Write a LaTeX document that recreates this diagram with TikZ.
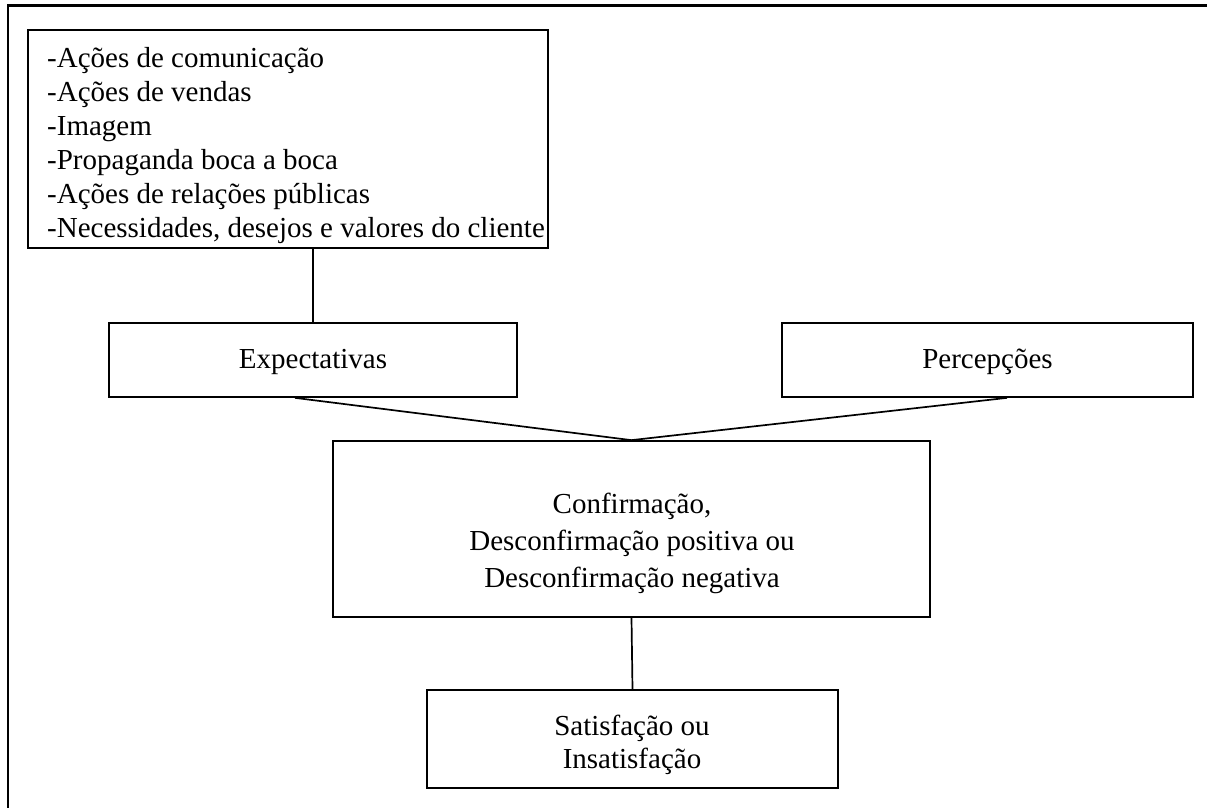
\documentclass[tikz,border=0pt]{standalone}
\usepackage{fontspec}
\setmainfont{Liberation Serif}
\begin{document}
\begin{tikzpicture}[x=1pt,y=-1pt,
  box/.style={draw, line width=1.7pt, rectangle, inner sep=0pt},
  txt/.style={inner sep=0pt},
  link/.style={line width=1.7pt},
  frameline/.style={line width=2.6pt}]
\useasboundingbox (0,0) rectangle (1207,808);
\draw[frameline] (8,808) -- (8,5.5) -- (1207,5.5);
% boxes
\node[box, minimum width=520pt, minimum height=218pt] (src) at (288,139) {};
\node[box, minimum width=408pt, minimum height=74pt] (exp) at (313,360) {};
\node[box, minimum width=411pt, minimum height=74pt] (per) at (987.5,360) {};
\node[box, minimum width=597pt, minimum height=176pt] (conf) at (631.5,529) {};
\node[box, minimum width=411pt, minimum height=98pt] (sat) at (632.5,739) {};
% texts
\node[txt, align=left, anchor=north west, font=\fontsize{29}{34}\selectfont] (srcT) at (47,47.2)
 {-Ações de comunicação\\-Ações de vendas\\-Imagem\\-Propaganda boca a boca\\-Ações de relações públicas\\-Necessidades, desejos e valores do cliente};
\node[txt, anchor=base, font=\fontsize{29}{33}\selectfont] (expT) at (313,368) {Expectativas};
\node[txt, anchor=base, font=\fontsize{29}{33}\selectfont] (perT) at (987.5,368) {Percepções};
\node[txt, align=center, anchor=north, font=\fontsize{29}{37}\selectfont] (confT) at (632,493)
 {Confirmação,\\Desconfirmação positiva ou\\Desconfirmação negativa};
\node[txt, align=center, anchor=north, font=\fontsize{29}{33}\selectfont] (satT) at (632,715)
 {Satisfação ou\\Insatisfação};
% connectors
\coordinate (srcB) at (src.south -| exp.north);
\draw[link] (srcB) -- (exp.north);
\coordinate (expB) at ([xshift=-18pt]exp.south);
\coordinate (perB) at ([xshift=19.5pt]per.south);
\draw[link] (expB) -- (conf.north) -- (perB);
\draw[link] (conf.south) -- (sat.north);
\end{tikzpicture}
\end{document}
